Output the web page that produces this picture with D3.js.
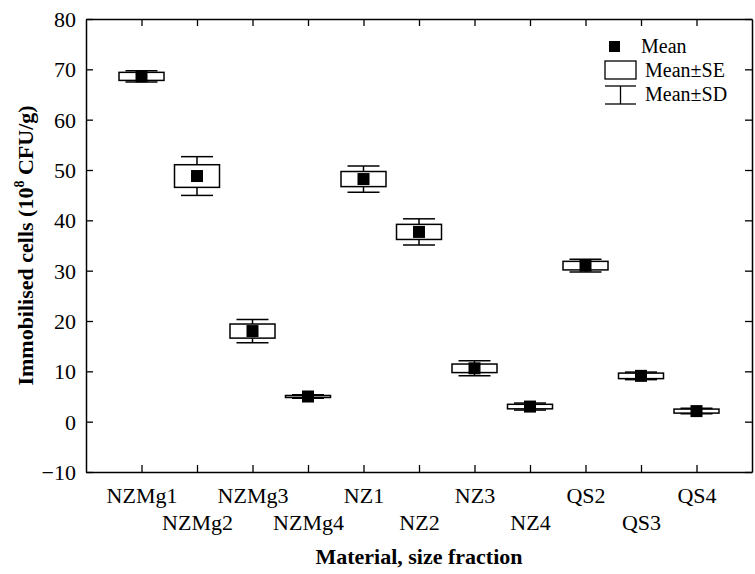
<!DOCTYPE html>
<html>
<head>
<meta charset="utf-8">
<script src="https://cdn.jsdelivr.net/npm/d3@7"></script>
<style>
  body { margin: 0; background: #fff; }
  svg { display: block; }
  text { font-family: "Liberation Serif", "Times New Roman", serif; fill: #000; }
</style>
</head>
<body>
<svg id="chart" width="755" height="574"></svg>
<script>
const categories = ["NZMg1","NZMg2","NZMg3","NZMg4","NZ1","NZ2","NZ3","NZ4","QS2","QS3","QS4"];
const means = [68.6, 48.8, 18.0, 5.0, 48.2, 37.7, 10.6, 3.0, 31.0, 9.1, 2.1];
const se    = [0.8, 2.25, 1.4, 0.2, 1.5, 1.5, 0.85, 0.45, 0.85, 0.55, 0.4];
const sd    = [1.1, 3.85, 2.3, 0.35, 2.6, 2.6, 1.5, 0.7, 1.25, 0.75, 0.55];
const yTicks = [-10, 0, 10, 20, 30, 40, 50, 60, 70, 80];
const legendLabels = ["Mean", "Mean\u00B1SE", "Mean\u00B1SD"];

const svg = d3.select("#chart");
const m = {left: 86, top: 19, right: 3, bottom: 102};
const W = 755 - m.left - m.right, H = 574 - m.top - m.bottom;

const x = d3.scaleLinear().domain([0, categories.length + 1]).range([m.left, m.left + W]);
const y = d3.scaleLinear().domain([-10, 80]).range([m.top + H, m.top]);

const xTickVals = categories.map((c, i) => i + 1);
const fontSize = 22;

// axes
const gL = svg.append("g").attr("transform", `translate(${m.left},0)`)
  .call(d3.axisLeft(y).tickValues(yTicks).tickSizeInner(-7).tickSizeOuter(0).tickPadding(10));
const gR = svg.append("g").attr("transform", `translate(${m.left + W},0)`)
  .call(d3.axisRight(y).tickValues(yTicks).tickSizeInner(-7).tickSizeOuter(0).tickFormat(""));
const gB = svg.append("g").attr("transform", `translate(0,${m.top + H})`)
  .call(d3.axisBottom(x).tickValues(xTickVals).tickSizeInner(-7).tickSizeOuter(0)
    .tickFormat((d) => categories[d - 1]).tickPadding(18));
const gT = svg.append("g").attr("transform", `translate(0,${m.top})`)
  .call(d3.axisTop(x).tickValues(xTickVals).tickSizeInner(-7).tickSizeOuter(0).tickFormat(""));

[gL, gR, gB, gT].forEach(g => {
  g.selectAll("path.domain").attr("stroke", "#000").attr("stroke-width", 1.5);
  g.selectAll(".tick line").attr("stroke", "#000").attr("stroke-width", 1.3);
  g.selectAll(".tick text").attr("font-family", "Liberation Serif").attr("font-size", fontSize).attr("fill", "#000");
});
gL.selectAll(".tick text").attr("dy", "0.34em");
gB.selectAll(".tick text").attr("dy", (d, i) => i % 2 === 0 ? "0.6em" : "1.82em");

// box plots
const boxW = 45, capW = 32, sq = 12;
const g = svg.append("g");
categories.forEach((c, i) => {
  const cx = x(i + 1);
  const gg = g.append("g");
  gg.append("line").attr("x1", cx).attr("x2", cx).attr("y1", y(means[i] + sd[i])).attr("y2", y(means[i] - sd[i]))
    .attr("stroke", "#000").attr("stroke-width", 1.5);
  [means[i] + sd[i], means[i] - sd[i]].forEach(v => {
    gg.append("line").attr("x1", cx - capW / 2).attr("x2", cx + capW / 2).attr("y1", y(v)).attr("y2", y(v))
      .attr("stroke", "#000").attr("stroke-width", 1.5);
  });
  gg.append("rect").attr("x", cx - boxW / 2).attr("width", boxW)
    .attr("y", y(means[i] + se[i])).attr("height", y(means[i] - se[i]) - y(means[i] + se[i]))
    .attr("fill", "#fff").attr("stroke", "#000").attr("stroke-width", 1.5);
  gg.append("rect").attr("x", cx - sq / 2).attr("y", y(means[i]) - sq / 2).attr("width", sq).attr("height", sq)
    .attr("fill", "#000");
});

// legend
const lg = svg.append("g");
lg.append("rect").attr("x", 609).attr("y", 41).attr("width", 11).attr("height", 11).attr("fill", "#000");
lg.append("text").attr("x", 641).attr("y", 53).attr("font-size", 20).text(legendLabels[0]);
lg.append("rect").attr("x", 605).attr("y", 61).attr("width", 31).attr("height", 18)
  .attr("fill", "#fff").attr("stroke", "#000").attr("stroke-width", 1.3);
lg.append("text").attr("x", 645).attr("y", 77).attr("font-size", 20).text(legendLabels[1]);
lg.append("line").attr("x1", 605).attr("x2", 636).attr("y1", 86).attr("y2", 86).attr("stroke", "#000").attr("stroke-width", 1.3);
lg.append("line").attr("x1", 605).attr("x2", 636).attr("y1", 104).attr("y2", 104).attr("stroke", "#000").attr("stroke-width", 1.3);
lg.append("line").attr("x1", 620.5).attr("x2", 620.5).attr("y1", 86).attr("y2", 104).attr("stroke", "#000").attr("stroke-width", 1.3);
lg.append("text").attr("x", 645).attr("y", 101).attr("font-size", 20).text(legendLabels[2]);

// axis titles
const yt = svg.append("text").attr("transform", `translate(33,${m.top + H / 2}) rotate(-90)`)
  .attr("text-anchor", "middle").attr("font-weight", "bold").attr("font-size", 22);
yt.append("tspan").text("Immobilised cells (10");
yt.append("tspan").attr("font-size", 14).attr("dy", -9).text("8");
yt.append("tspan").attr("dy", 9).text(" CFU/g)");

svg.append("text").attr("x", m.left + W / 2).attr("y", 564).attr("text-anchor", "middle")
  .attr("font-weight", "bold").attr("font-size", 22).text("Material, size fraction");
</script>
</body>
</html>
